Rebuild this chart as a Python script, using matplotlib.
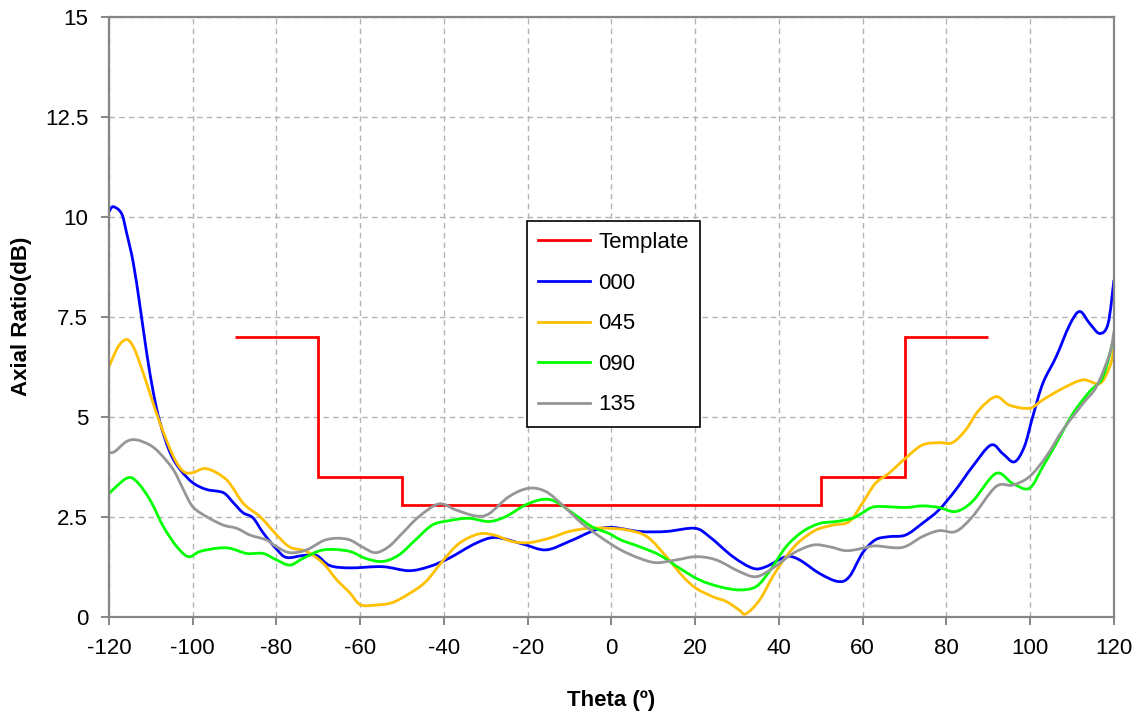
import matplotlib
matplotlib.use("Agg")
import matplotlib.pyplot as plt
from matplotlib.path import Path
from matplotlib.patches import PathPatch
from matplotlib.lines import Line2D
import numpy as np

# === DATA ===
TEMPLATE_EDGES = [-90, -70, -50, 50, 70, 90]
TEMPLATE_LEVELS = [7, 3.5, 2.8, 3.5, 7]

theta_000 = [-120, -119, -117, -115.8, -114.2, -112.6, -111, -109.4, -107.8, -105.4, -103, -100,
             -96.7, -92.7, -90.3, -88, -85.6, -83.2, -80, -77.6, -73.6, -70.4, -67.3, -62.5,
             -54.7, -48.4, -43.6, -38.8, -32.5, -27.7, -21.3, -15.7, -10.1, -3.8, 0.4, 6.7,
             13.1, 19.9, 23.4, 29, 33.8, 36.9, 41.7, 44.9, 49.7, 54.1, 56.8, 60, 63, 66.2,
             70.2, 74.2, 78.2, 82.2, 86.2, 90.6, 93.4, 96.2, 98.6, 100.6, 103, 106.2, 109.4,
             111.8, 114.2, 116.6, 118.6, 120]
ar_000 = [10.12, 10.25, 10.08, 9.6, 8.85, 7.77, 6.6, 5.6, 4.85, 4.1, 3.68, 3.35,
          3.18, 3.1, 2.85, 2.6, 2.47, 2.1, 1.69, 1.48, 1.53, 1.53, 1.28, 1.22,
          1.25, 1.15, 1.25, 1.46, 1.83, 1.98, 1.82, 1.67, 1.88, 2.17, 2.23, 2.13,
          2.13, 2.21, 2.0, 1.5, 1.21, 1.25, 1.5, 1.42, 1.08, 0.88, 1.0, 1.6, 1.92, 2.0,
          2.04, 2.33, 2.67, 3.17, 3.75, 4.29, 4.08, 3.87, 4.25, 5.0, 5.83, 6.5, 7.29,
          7.63, 7.33, 7.08, 7.33, 8.42]

theta_045 = [-120, -117.8, -115.8, -114.2, -112.6, -110.2, -107.8, -104.6, -102.2, -100, -96.7,
             -91.9, -87.9, -83.9, -80, -76.8, -72.8, -68.8, -65.6, -62.5, -60, -56.4, -52.4,
             -48.4, -44.4, -40.4, -36.4, -31.6, -27.7, -23.7, -19.7, -14.9, -10.1, -5.4, -0.6,
             3.6, 8.5, 13.1, 17.1, 20.2, 24.2, 27.4, 30.5, 32.1, 35.4, 38.5, 41.7, 44.9, 48.9,
             52.9, 56.8, 60, 63, 66.2, 70.2, 74.2, 78.2, 81.4, 84.6, 87.8, 91.8, 95, 99.8,
             103, 107.8, 112.6, 116.6, 119, 120]
ar_045 = [6.25, 6.75, 6.93, 6.75, 6.33, 5.58, 4.83, 4.0, 3.63, 3.6, 3.7,
          3.42, 2.83, 2.5, 2.05, 1.74, 1.63, 1.33, 0.92, 0.6, 0.3, 0.29, 0.35,
          0.57, 0.87, 1.38, 1.83, 2.07, 2.03, 1.88, 1.85, 1.96, 2.13, 2.21, 2.21,
          2.17, 2.0, 1.5, 1.0, 0.71, 0.5, 0.38, 0.17, 0.07, 0.42, 1.0, 1.5, 1.88, 2.17,
          2.29, 2.38, 2.85, 3.33, 3.58, 3.96, 4.29, 4.35, 4.35, 4.67, 5.17, 5.5, 5.29, 5.21,
          5.42, 5.71, 5.92, 5.83, 6.25, 6.71]

theta_090 = [-120, -115.8, -113.4, -110.2, -107, -103.8, -101, -98.3, -94.3, -91.1, -87.1,
             -83.2, -80, -76.8, -73.6, -68.8, -62.8, -58.8, -54.7, -50.8, -46.8, -42.8, -38.8,
             -34.1, -29.3, -25.3, -20.6, -16.6, -13.4, -8.6, -4.7, -0.6, 2.2, 6.7, 11.5, 16.3,
             21, 25.8, 30.5, 34.5, 37.7, 41.7, 45.7, 49.7, 53.7, 57.6, 60, 63, 70.2, 74.2,
             78.2, 82.2, 86.2, 91.8, 95.8, 99.8, 103, 106.2, 110.2, 114.2, 117.4, 120]
ar_090 = [3.08, 3.46, 3.38, 2.92, 2.25, 1.75, 1.5, 1.63, 1.71, 1.71, 1.58,
          1.58, 1.42, 1.29, 1.46, 1.67, 1.64, 1.46, 1.38, 1.54, 1.92, 2.29, 2.4,
          2.46, 2.38, 2.5, 2.79, 2.93, 2.88, 2.54, 2.25, 2.08, 1.92, 1.75, 1.54, 1.21,
          0.92, 0.75, 0.67, 0.75, 1.13, 1.75, 2.13, 2.33, 2.38, 2.46, 2.6, 2.75, 2.73, 2.77,
          2.73, 2.63, 2.88, 3.58, 3.33, 3.21, 3.75, 4.33, 5.08, 5.63, 6.0, 7.0]

theta_135 = [-120, -118.6, -115.8, -113.4, -110.2, -107.8, -104.6, -102.2, -100, -96.7, -92.7,
             -89.5, -86.3, -82.4, -80, -76.8, -72.8, -68.8, -65.6, -62.5, -59.6, -56.4, -53.2,
             -50, -46, -41.2, -37.2, -32.5, -29.3, -24.5, -19.8, -15.7, -11.7, -7, -2.2, 2.2,
             6.7, 10.7, 15.5, 20.2, 25, 30.5, 34.5, 38.5, 43.3, 48.1, 52, 56, 60, 63, 69.4,
             74.2, 78.2, 82.2, 86.2, 91.8, 95.8, 99.8, 103.8, 107.8, 112.6, 115.8, 119, 120]
ar_135 = [4.1, 4.13, 4.38, 4.42, 4.29, 4.08, 3.67, 3.17, 2.75, 2.5, 2.29,
          2.21, 2.04, 1.92, 1.75, 1.6, 1.67, 1.9, 1.96, 1.92, 1.75, 1.6, 1.75,
          2.08, 2.5, 2.82, 2.67, 2.52, 2.57, 3.0, 3.21, 3.13, 2.79, 2.33, 1.96, 1.67,
          1.46, 1.35, 1.42, 1.5, 1.42, 1.13, 1.0, 1.21, 1.58, 1.79, 1.75, 1.65, 1.71, 1.77, 1.73,
          2.0, 2.15, 2.13, 2.5, 3.25, 3.29, 3.5, 4.0, 4.67, 5.33, 5.75, 6.58, 7.13]

SERIES = [
    ("000", theta_000, ar_000, "#0000FF"),
    ("045", theta_045, ar_045, "#FFC000"),
    ("090", theta_090, ar_090, "#00FF00"),
    ("135", theta_135, ar_135, "#969696"),
]

X_TICKS = [-120, -100, -80, -60, -40, -20, 0, 20, 40, 60, 80, 100, 120]
Y_TICKS = [0, 2.5, 5, 7.5, 10, 12.5, 15]
Y_TICK_LABELS = ["0", "2.5", "5", "7.5", "10", "12.5", "15"]

# === STYLE ===
plt.rcParams['font.family'] = ['Liberation Sans', 'DejaVu Sans']
plt.rcParams['axes.unicode_minus'] = False
AXIS_GRAY = "#868686"
LW = 2.0


def smooth_path(xs, ys):
    # Excel-like smoothed line: Catmull-Rom segments as cubic Beziers
    p = np.column_stack([xs, ys]).astype(float)
    p = np.vstack([p[0], p, p[-1]])
    verts = [p[1]]
    codes = [Path.MOVETO]
    for i in range(1, len(p) - 2):
        c1 = p[i] + (p[i + 1] - p[i - 1]) / 6.0
        c2 = p[i + 1] - (p[i + 2] - p[i]) / 6.0
        verts += [c1, c2, p[i + 1]]
        codes += [Path.CURVE4] * 3
    return Path(verts, codes)


fig = plt.figure(figsize=(11.47, 7.19), dpi=100)
ax = fig.add_axes([0.095, 0.1423, 0.8762, 0.8345])

ax.stairs(TEMPLATE_LEVELS, TEMPLATE_EDGES, baseline=None, color="#FF0000", linewidth=2.0)
handles = [Line2D([], [], color="#FF0000", linewidth=2.0, label="Template")]
for name, th, ar, col in SERIES:
    ax.add_patch(PathPatch(smooth_path(th, ar), fill=False, edgecolor=col,
                           linewidth=LW, joinstyle="round", capstyle="butt"))
    handles.append(Line2D([], [], color=col, linewidth=LW, label=name))

ax.set_xlim(-120, 120)
ax.set_ylim(0, 15)
ax.set_xticks(X_TICKS)
ax.set_yticks(Y_TICKS)
ax.set_yticklabels(Y_TICK_LABELS)

ax.grid(True, color="#b4b4b4", linestyle=(0, (4, 3)), linewidth=1.0)
ax.set_axisbelow(True)
for s in ax.spines.values():
    s.set_color(AXIS_GRAY)
    s.set_linewidth(1.6)
ax.tick_params(axis="both", direction="out", length=6, width=1.4, color=AXIS_GRAY,
               labelsize=16, pad=9, labelcolor="black")

ax.set_xlabel("Theta (º)", fontsize=16, fontweight="bold", labelpad=23)
ax.set_ylabel("Axial Ratio(dB)", fontsize=16, fontweight="bold", labelpad=9)

leg = ax.legend(handles=handles, loc="upper left", bbox_to_anchor=(0.4156, 0.66),
                borderaxespad=0, fontsize=16, handlelength=2.35, handletextpad=0.35,
                labelspacing=0.88, fancybox=False, frameon=True, borderpad=0.52)
leg.get_frame().set_edgecolor("black")
leg.get_frame().set_linewidth(1.2)
leg.get_frame().set_alpha(1)

fig.savefig("out.png", dpi=100)
